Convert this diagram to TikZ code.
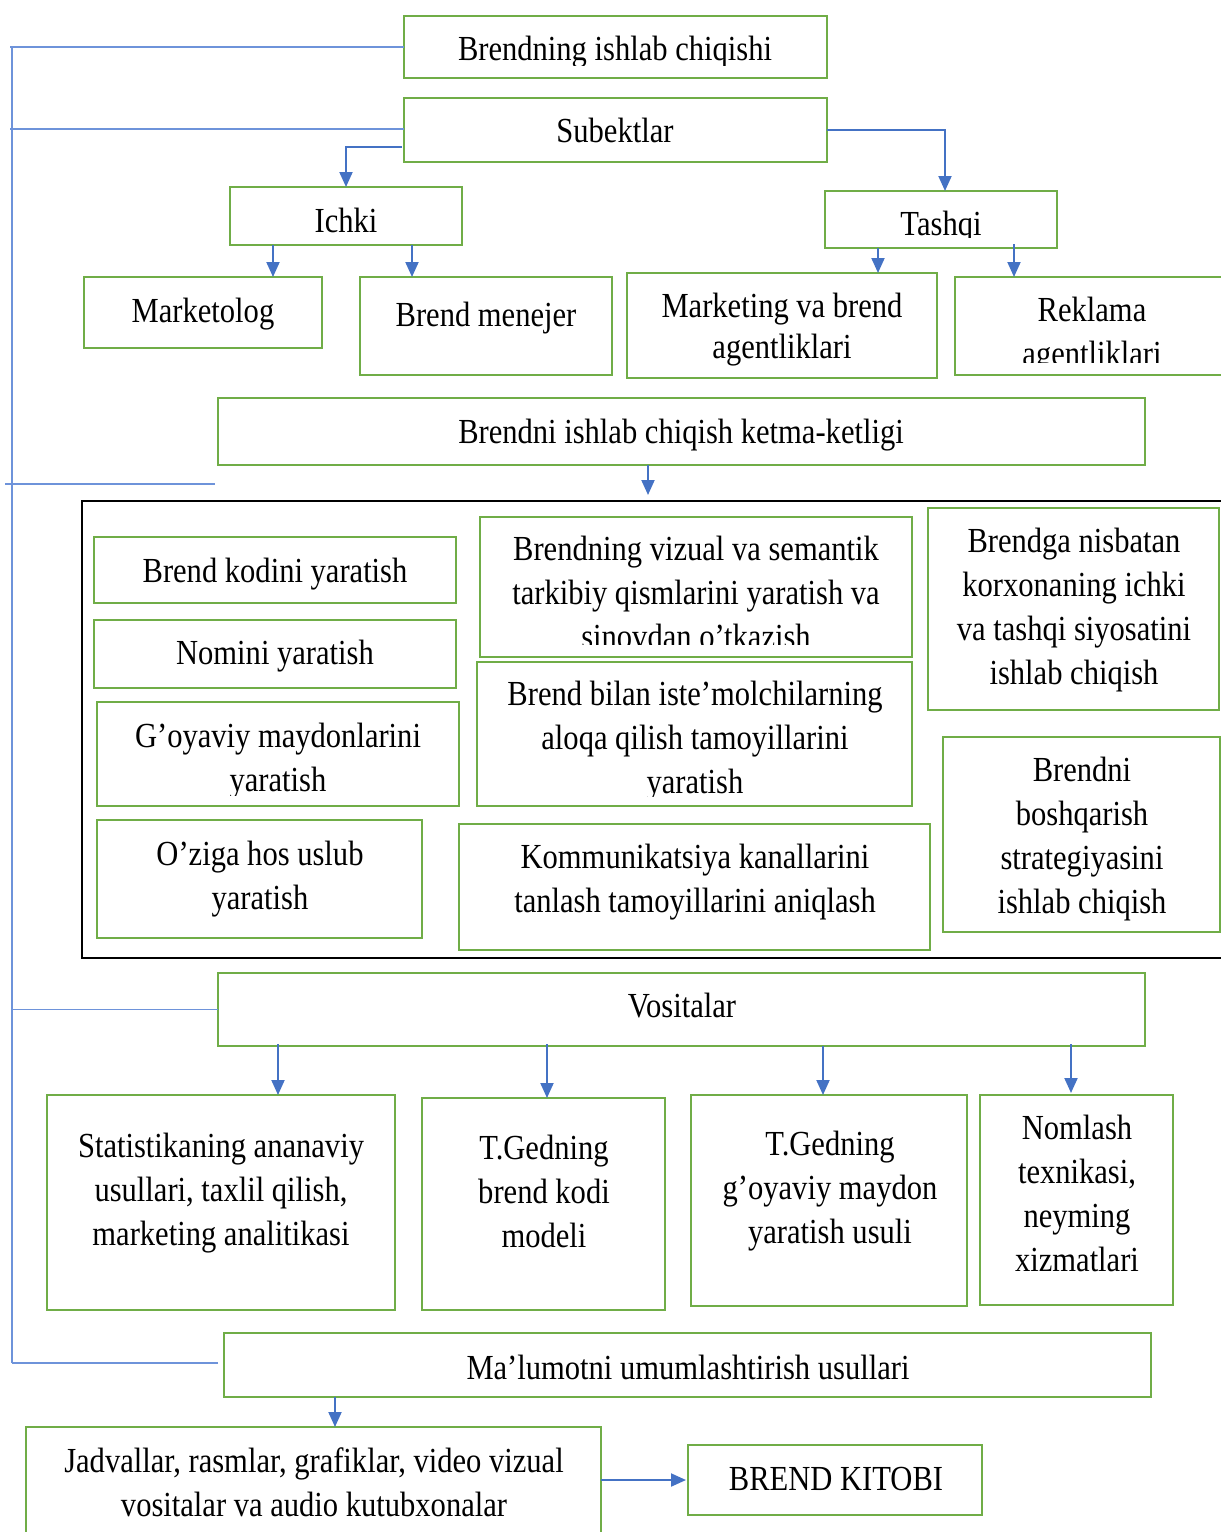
\documentclass[tikz,border=0pt]{standalone}
\usepackage{fontspec}
\setmainfont[FakeStretch=0.868]{Liberation Serif}
\usetikzlibrary{arrows.meta,calc}
\definecolor{boxgreen}{HTML}{70AD47}
\definecolor{arrblue}{HTML}{4472C4}
\definecolor{linkblue}{HTML}{6E93DA}
\begin{document}
\begin{tikzpicture}[x=1pt,y=-1pt,
  gbox/.style={draw=boxgreen,line width=2.8pt,rectangle,inner sep=0pt,outer sep=0pt,anchor=north west},
  kbox/.style={draw=black,line width=2.8pt,rectangle,inner sep=0pt,outer sep=0pt,anchor=north west},
  txt/.style={inner sep=0pt,outer sep=0pt,align=center,anchor=base,font=\fontsize{35.2}{44}\selectfont},
  arr/.style={draw=arrblue,line width=2pt,-{Triangle[width=13pt,length=15pt]}},
  brk/.style={draw=linkblue,line width=1.3pt}]
\useasboundingbox (0,0) rectangle (1221,1532);

% ---------- boxes ----------
\node[gbox,minimum width=423pt,minimum height=62pt] (b1) at (404,16) {};
\node[gbox,minimum width=423pt,minimum height=64pt] (b2) at (404,98) {};
\node[gbox,minimum width=232pt,minimum height=58pt] (b3) at (230,187) {};
\node[gbox,minimum width=232pt,minimum height=57pt] (b4) at (825,191) {};
\node[gbox,minimum width=238pt,minimum height=71pt] (b5) at (84,277) {};
\node[gbox,minimum width=252pt,minimum height=98pt] (b6) at (360,277) {};
\node[gbox,minimum width=310pt,minimum height=105pt] (b7) at (627,273) {};
\node[gbox,minimum width=275pt,minimum height=98pt] (b8) at (955,277) {};
\node[gbox,minimum width=927pt,minimum height=67pt] (b9) at (218,398) {};
\node[kbox,minimum width=1150pt,minimum height=457pt] (bk) at (82,501) {};
\node[gbox,minimum width=362pt,minimum height=66pt] (c1) at (94,537) {};
\node[gbox,minimum width=362pt,minimum height=68pt] (c2) at (94,620) {};
\node[gbox,minimum width=362pt,minimum height=104pt] (c3) at (97,702) {};
\node[gbox,minimum width=325pt,minimum height=118pt] (c4) at (97,820) {};
\node[gbox,minimum width=432pt,minimum height=140pt] (c5) at (480,517) {};
\node[gbox,minimum width=435pt,minimum height=144pt] (c6) at (477,662) {};
\node[gbox,minimum width=471pt,minimum height=126pt] (c7) at (459,824) {};
\node[gbox,minimum width=291pt,minimum height=202pt] (c8) at (928,508) {};
\node[gbox,minimum width=277pt,minimum height=195pt] (c9) at (943,737) {};
\node[gbox,minimum width=927pt,minimum height=73pt] (b10) at (218,973) {};
\node[gbox,minimum width=348pt,minimum height=215pt] (d1) at (47,1095) {};
\node[gbox,minimum width=243pt,minimum height=212pt] (d2) at (422,1098) {};
\node[gbox,minimum width=276pt,minimum height=211pt] (d3) at (691,1095) {};
\node[gbox,minimum width=193pt,minimum height=210pt] (d4) at (980,1095) {};
\node[gbox,minimum width=927pt,minimum height=64pt] (b11) at (224,1333) {};
\node[gbox,minimum width=575pt,minimum height=118pt] (b12) at (26,1427) {};
\node[gbox,minimum width=294pt,minimum height=70pt] (b13) at (688,1445) {};

% ---------- texts (anchored at the baseline of the last line) ----------
\begin{scope}
  \clip (405,17) rectangle (826,65);
  \node[txt] (t1) at (615,60) {Brendning ishlab chiqishi};
\end{scope}
\node[txt] (t2) at (615,142) {Subektlar};
\node[txt] (t3) at (346,232) {Ichki};
\begin{scope}
  \clip (826,192) rectangle (1056,237);
  \node[txt] (t4) at (941,235) {Tashqi};
\end{scope}
\node[txt] (t5) at (203,322) {Marketolog};
\node[txt] (t6) at (486,326) {Brend menejer};
\node[txt,font=\fontsize{35.2}{41}\selectfont] (t7) at (782,358) {Marketing va brend\\agentliklari};
\begin{scope}
  \clip (956,278) rectangle (1230,362);
  \node[txt] (t8) at (1092,365) {Reklama\\agentliklari};
\end{scope}
\node[txt] (t9) at (681,443) {Brendni ishlab chiqish ketma-ketligi};

\node[txt] (tc1) at (275,582) {Brend kodini yaratish};
\node[txt] (tc2) at (275,664) {Nomini yaratish};
\begin{scope}
  \clip (98,703) rectangle (458,795);
  \node[txt] (tc3) at (278,791) {G’oyaviy maydonlarini\\yaratish};
\end{scope}
\node[txt] (tc4) at (260,909) {O’ziga hos uslub\\yaratish};
\begin{scope}
  \clip (481,518) rectangle (911,644);
  \node[txt] (tc5) at (696,648) {Brendning vizual va semantik\\tarkibiy qismlarini yaratish va\\sinovdan o’tkazish};
\end{scope}
\begin{scope}
  \clip (478,663) rectangle (911,796);
  \node[txt] (tc6) at (695,793) {Brend bilan iste’molchilarning\\aloqa qilish tamoyillarini\\yaratish};
\end{scope}
\node[txt] (tc7) at (695,912) {Kommunikatsiya kanallarini\\tanlash tamoyillarini aniqlash};
\node[txt] (tc8) at (1074,684) {Brendga nisbatan\\korxonaning ichki\\va tashqi siyosatini\\ishlab chiqish};
\node[txt] (tc9) at (1082,913) {Brendni\\boshqarish\\strategiyasini\\ishlab chiqish};

\node[txt] (t10) at (682,1017) {Vositalar};
\node[txt] (td1) at (221,1245) {Statistikaning ananaviy\\usullari, taxlil qilish,\\marketing analitikasi};
\node[txt] (td2) at (544,1247) {T.Gedning\\brend kodi\\modeli};
\node[txt] (td3) at (830,1243) {T.Gedning\\g’oyaviy maydon\\yaratish usuli};
\node[txt] (td4) at (1077,1271) {Nomlash\\texnikasi,\\neyming\\xizmatlari};
\node[txt] (t11) at (688,1379) {Ma’lumotni umumlashtirish usullari};
\node[txt] (t12) at (314,1516) {Jadvallar, rasmlar, grafiklar, video vizual\\vositalar va audio kutubxonalar};
\node[txt] (t13) at (836,1490) {BREND KITOBI};

% ---------- arrows ----------
\draw[arr] ($(b2.west)+(-2,17)$) -| (b3.north);
\draw[arr] (b2.east) -| ($(b4.north)+(4,0)$);
\draw[arr] ([xshift=-73pt]b3.south) -- ([xshift=-73pt]b3.south |- b5.north);
\draw[arr] ([xshift=66pt]b3.south) -- ([xshift=66pt]b3.south |- b6.north);
\draw[arr] ([xshift=-63pt]b4.south) -- ([xshift=-63pt]b4.south |- b7.north);
\draw[arr] ([xshift=73pt,yshift=4pt]b4.south) -- ([xshift=73pt]b4.south |- b8.north);
\draw[arr,shorten >=6pt] ([xshift=-33.5pt]b9.south) -- ([xshift=-33.5pt]b9.south |- bk.north);
\draw[arr] ([xshift=-403.5pt,yshift=2pt]b10.south) -- ([xshift=-403.5pt]b10.south |- d1.north);
\draw[arr] ([xshift=-134.5pt,yshift=2pt]b10.south) -- ([xshift=-134.5pt]b10.south |- d2.north);
\draw[arr] ([xshift=141.5pt]b10.south) -- ([xshift=141.5pt]b10.south |- d3.north);
\draw[arr] ([xshift=389.5pt,yshift=2pt]b10.south) -- ([xshift=389.5pt,yshift=2pt]b10.south |- d4.north);
\draw[arr] ([xshift=-352.5pt]b11.south) -- ([xshift=-352.5pt]b11.south |- b12.north);
\draw[arr,shorten >=2pt] (b12.east |- b13.west) -- (b13.west);

% ---------- left bracket ----------
\coordinate (lt) at (12,47);
\coordinate (lb) at (12,1363);
\coordinate (fa) at (5,484);
\coordinate (fb) at (215,484);
\draw[brk] (lt) -- (lb);
\draw[brk] (b1.west) -- ($(b1.west -| lt)+(-2,0)$);
\draw[brk] ($(b2.west)+(0,-1)$) -- ($(b2.west -| lt)+(-2,-1)$);
\draw[brk] (fa) -- (fb);
\draw[brk] (b10.west) -- (b10.west -| lt);
\draw[brk] ($(b11.west)+(-6,-2)$) -- ($(b11.west -| lb)+(0,-2)$);
\end{tikzpicture}
\end{document}
